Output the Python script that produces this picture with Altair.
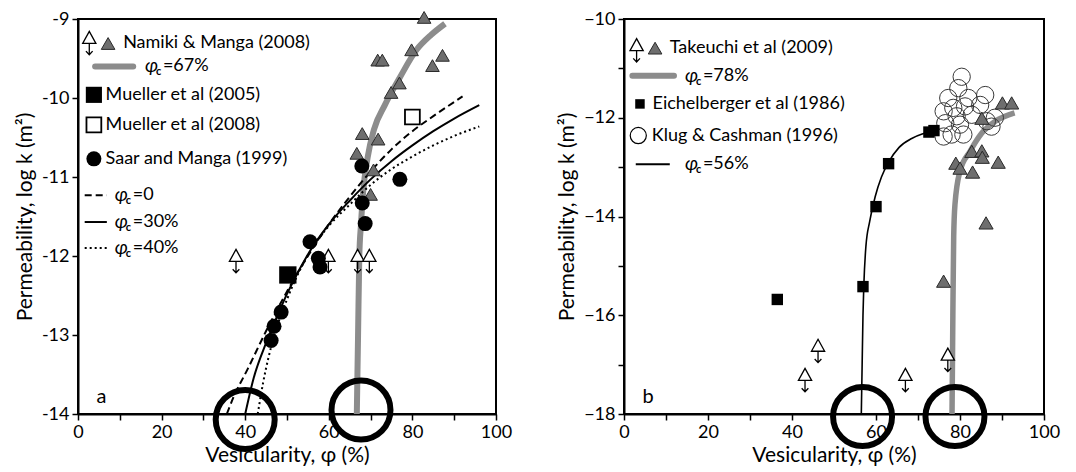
import altair as alt
import pandas as pd

FONT = "Lato"
GRAY = "#8c8c8c"
TRI_FILL = "#6e6e6e"
TRI_ARROW = "M0,-0.55L0.55,0.45L-0.55,0.45Z M0,0.45L0,1.4 M-0.28,1.1L0,1.4L0.28,1.1"

# ---------------- Panel a data ----------------
a_nm_x = [82.8, 79.8, 87.2, 84.8, 71.7, 72.8, 76.9, 74.9, 68.0, 71.8, 66.7, 70.7, 70.0]
a_nm_y = [-8.98, -9.39, -9.46, -9.59, -9.52, -9.52, -9.81, -9.93, -10.45, -10.52, -10.70, -10.91, -11.22]
a_lim_x = [37.8, 59.9, 66.9, 69.7]
a_lim_y = [-12.0, -12.0, -12.0, -12.0]
a_sm_x = [67.9, 68.0, 68.7, 77.0, 55.5, 57.5, 57.9, 48.6, 46.9, 46.2]
a_sm_y = [-10.86, -11.33, -11.59, -11.03, -11.82, -12.03, -12.14, -12.71, -12.89, -13.07]
a_m05_x = [50.2]
a_m05_y = [-12.24]
a_m08_x = [80.0]
a_m08_y = [-10.24]

a_g67_x = [66.7, 67.0, 67.3, 67.7, 68.2, 69.3, 70.8, 73.4, 77.0, 81.0, 84.5, 87.8]
a_g67_y = [-14.0, -13.0, -12.0, -11.6, -11.2, -10.75, -10.4, -10.09, -9.74, -9.39, -9.2, -9.06]
a_c0_x = [35.6, 37.1, 40.7, 45.0, 50.0, 55.0, 60.0, 65.0, 70.0, 75.0, 80.0, 85.0, 92.0]
a_c0_y = [-14.0, -13.8, -13.42, -12.95, -12.45, -12.0, -11.6, -11.25, -10.93, -10.65, -10.42, -10.23, -9.98]
a_c30_x = [40.0, 42.0, 45.0, 48.0, 50.0, 55.0, 60.0, 65.0, 70.0, 75.0, 80.0, 85.0, 90.0, 96.0]
a_c30_y = [-14.0, -13.55, -13.1, -12.72, -12.48, -11.98, -11.6, -11.3, -11.03, -10.8, -10.6, -10.42, -10.26, -10.09]
a_c40_x = [43.0, 44.3, 45.5, 47.0, 50.0, 55.0, 60.0, 65.0, 70.0, 75.0, 80.0, 85.0, 90.0, 96.0]
a_c40_y = [-14.0, -13.6, -13.3, -13.0, -12.55, -11.99, -11.62, -11.35, -11.1, -10.9, -10.74, -10.6, -10.48, -10.36]

a_big_x = [40.0, 67.7]
a_big_y = [-14.07, -13.95]

# ---------------- Panel b data ----------------
b_tk_x = [90.1, 92.3, 85.2, 82.8, 85.2, 85.3, 79.0, 80.0, 83.0, 89.1, 86.2, 76.1]
b_tk_y = [-11.70, -11.70, -12.01, -12.68, -12.67, -12.80, -12.92, -13.02, -13.10, -12.90, -14.13, -15.31]
b_lim_x = [46.2, 43.1, 67.0, 77.1]
b_lim_y = [-16.62, -17.21, -17.21, -16.80]
b_eb_x = [36.5, 56.9, 60.0, 63.0, 73.8, 72.6]
b_eb_y = [-15.68, -15.42, -13.80, -12.93, -12.26, -12.29]
b_kc_x = [80.4, 79.6, 77.2, 86.0, 78.4, 81.2, 84.8, 79.2, 82.8, 86.4, 76.5, 80.0, 87.5, 78.0, 80.8, 76.1, 76.1, 88.3, 82.0]
b_kc_y = [-11.17, -11.40, -11.60, -11.54, -11.80, -11.77, -11.74, -11.97, -11.94, -12.07, -12.11, -12.14, -12.18, -12.34, -12.34, -12.38, -11.87, -12.0, -11.60]

b_g78_x = [78.1, 78.3, 78.5, 78.8, 80.0, 82.4, 85.2, 88.4, 93.0]
b_g78_y = [-18.0, -16.0, -14.4, -13.76, -13.08, -12.68, -12.31, -12.07, -11.9]
b_c56_x = [56.5, 56.7, 56.9, 57.1, 57.6, 58.5, 59.8, 61.3, 63.0, 65.5, 68.5, 71.0, 72.8]
b_c56_y = [-18.0, -17.0, -16.0, -15.4, -14.6, -14.1, -13.6, -13.2, -12.9, -12.6, -12.42, -12.33, -12.29]

b_big_x = [56.8, 78.8]
b_big_y = [-18.05, -18.05]

# ---------------- Legends ----------------
a_leg_txt_x = [10.8, 6.6, 6.6, 6.6]
a_leg_txt_y = [-9.31, -9.96, -10.34, -10.77]
a_leg_txt = ["Namiki & Manga (2008)", "Mueller et al (2005)", "Mueller et al (2008)", "Saar and Manga (1999)"]
a_leg_phi_x = [16.0, 8.8, 8.8, 8.8]
a_leg_phi_y = [-9.60, -11.23, -11.57, -11.90]
a_leg_phi_val = ["=67%", "=0", "=30%", "=40%"]

b_leg_txt_x = [10.9, 6.8, 6.6]
b_leg_txt_y = [-10.59, -11.72, -12.36]
b_leg_txt = ["Takeuchi et al (2009)", "Eichelberger et al (1986)", "Klug & Cashman (1996)"]
b_leg_phi_x = [14.5, 14.5]
b_leg_phi_y = [-11.15, -12.94]
b_leg_phi_val = ["=78%", "=56%"]

xs = alt.Scale(domain=[0, 100], nice=False, zero=False)


def x_enc():
    return alt.X("x:Q", scale=xs, title="Vesicularity, φ (%)",
                 axis=alt.Axis(values=list(range(0, 101, 10)),
                               labelExpr="datum.value % 20 == 0 ? datum.label : ''",
                               labelFlush=False, grid=False, tickSize=6,
                               labelPadding=3, titlePadding=3))


def y_enc(dom, vals, expr):
    return alt.Y("y:Q", scale=alt.Scale(domain=dom, nice=False, zero=False),
                 title="Permeability,  log k  (m²)",
                 axis=alt.Axis(values=vals, labelExpr=expr, grid=False, tickSize=6,
                               labelPadding=3, titlePadding=6))


def pts(x, y, xe, ye, **mk):
    return alt.Chart(pd.DataFrame({"x": x, "y": y})).mark_point(opacity=1, **mk).encode(x=xe, y=ye)


def line(x, y, xe, ye, **mk):
    return alt.Chart(pd.DataFrame({"x": x, "y": y})).mark_line(**mk).encode(x=xe, y=ye)


def txt(x, y, t, xe, ye, **mk):
    base = dict(align="left", baseline="middle", font=FONT, fontSize=18, color="black")
    base.update(mk)
    return alt.Chart(pd.DataFrame({"x": x, "y": y, "t": t})).mark_text(**base).encode(x=xe, y=ye, text="t:N")


def phi_label(x, y, vals, xe, ye):
    return [
        txt(x, y, ["φ"] * len(x), xe, ye, fontStyle="italic", fontSize=19),
        txt(x, y, ["c"] * len(x), xe, ye, fontSize=11, dx=11, dy=6, fontWeight="bold"),
        txt(x, y, vals, xe, ye, dx=18),
    ]


# ---------------- Panel a ----------------
xa = x_enc()
ya = y_enc([-14, -9], [-14, -13, -12, -11, -10, -9], "'-' + abs(datum.value)")

layers_a = [
    line(a_g67_x, a_g67_y, xa, ya, color=GRAY, strokeWidth=6, interpolate="monotone"),
    line(a_c0_x, a_c0_y, xa, ya, color="black", strokeWidth=2, strokeDash=[7, 4], interpolate="monotone"),
    line(a_c30_x, a_c30_y, xa, ya, color="black", strokeWidth=2, interpolate="monotone"),
    line(a_c40_x, a_c40_y, xa, ya, color="black", strokeWidth=2, strokeDash=[2, 3], interpolate="monotone"),
    pts(a_nm_x, a_nm_y, xa, ya, shape="triangle-up", filled=True, fill=TRI_FILL, stroke="#2a2a2a", strokeWidth=1, size=185),
    pts(a_lim_x, a_lim_y, xa, ya, shape=TRI_ARROW, filled=True, fill="white", stroke="black", strokeWidth=1.3, size=576),
    pts(a_sm_x, a_sm_y, xa, ya, shape="circle", filled=True, color="black", size=225),
    pts(a_m05_x, a_m05_y, xa, ya, shape="square", filled=True, color="black", size=300),
    pts(a_m08_x, a_m08_y, xa, ya, shape="square", filled=False, color="black", strokeWidth=1.8, size=220),
    pts(a_big_x, a_big_y, xa, ya, shape="circle", filled=False, color="black", strokeWidth=6, size=3480),
    # legend
    pts([2.7], [-9.24], xa, ya, shape=TRI_ARROW, filled=True, fill="white", stroke="black", strokeWidth=1.3, size=576),
    pts([7.2], [-9.31], xa, ya, shape="triangle-up", filled=True, fill=TRI_FILL, stroke="#2a2a2a", strokeWidth=1, size=185),
    line([4.1, 13.2], [-9.60, -9.60], xa, ya, color=GRAY, strokeWidth=6, strokeCap="round"),
    pts([3.8], [-9.96], xa, ya, shape="square", filled=True, color="black", size=260),
    pts([3.8], [-10.34], xa, ya, shape="square", filled=False, color="black", strokeWidth=1.8, size=220),
    pts([3.8], [-10.77], xa, ya, shape="circle", filled=True, color="black", size=225),
    line([1.6, 6.9], [-11.23, -11.23], xa, ya, color="black", strokeWidth=2, strokeDash=[7, 4]),
    line([1.6, 6.9], [-11.57, -11.57], xa, ya, color="black", strokeWidth=2),
    line([1.6, 6.9], [-11.90, -11.90], xa, ya, color="black", strokeWidth=2, strokeDash=[2, 3]),
    txt(a_leg_txt_x, a_leg_txt_y, a_leg_txt, xa, ya),
    *phi_label(a_leg_phi_x, a_leg_phi_y, a_leg_phi_val, xa, ya),
    txt([4.4], [-13.78], ["a"], xa, ya, fontSize=20),
]
panel_a = alt.layer(*layers_a).properties(width=418, height=395)

# ---------------- Panel b ----------------
xb = x_enc()
yb = y_enc([-18, -10], list(range(-18, -9)), "datum.value % 2 == 0 ? datum.label : ''")

layers_b = [
    line(b_g78_x, b_g78_y, xb, yb, color=GRAY, strokeWidth=5.5, interpolate="monotone"),
    line(b_c56_x, b_c56_y, xb, yb, color="black", strokeWidth=1.6, interpolate="monotone"),
    pts(b_kc_x, b_kc_y, xb, yb, shape="circle", filled=False, color="#3a3a3a", strokeWidth=1, size=300),
    pts(b_tk_x, b_tk_y, xb, yb, shape="triangle-up", filled=True, fill=TRI_FILL, stroke="#2a2a2a", strokeWidth=1, size=200),
    pts(b_lim_x, b_lim_y, xb, yb, shape=TRI_ARROW, filled=True, fill="white", stroke="black", strokeWidth=1.3, size=576),
    pts(b_eb_x, b_eb_y, xb, yb, shape="square", filled=True, color="black", size=130),
    pts(b_big_x, b_big_y, xb, yb, shape="circle", filled=False, color="black", strokeWidth=6, size=3480),
    # legend
    pts([3.0], [-10.53], xb, yb, shape=TRI_ARROW, filled=True, fill="white", stroke="black", strokeWidth=1.3, size=576),
    pts([7.4], [-10.59], xb, yb, shape="triangle-up", filled=True, fill=TRI_FILL, stroke="#2a2a2a", strokeWidth=1, size=185),
    line([2.0, 11.9], [-11.15, -11.15], xb, yb, color=GRAY, strokeWidth=6, strokeCap="round"),
    pts([3.8], [-11.72], xb, yb, shape="square", filled=True, color="black", size=90),
    pts([3.4], [-12.36], xb, yb, shape="circle", filled=False, color="black", strokeWidth=1.2, size=260),
    line([2.8, 10.9], [-12.94, -12.94], xb, yb, color="black", strokeWidth=2),
    txt(b_leg_txt_x, b_leg_txt_y, b_leg_txt, xb, yb),
    *phi_label(b_leg_phi_x, b_leg_phi_y, b_leg_phi_val, xb, yb),
    txt([4.4], [-17.66], ["b"], xb, yb, fontSize=20),
]
panel_b = alt.layer(*layers_b).properties(width=420, height=395)

chart = (
    alt.hconcat(panel_a, panel_b, spacing=42)
    .properties(padding={"left": 5, "top": 0, "right": 5, "bottom": 0})
    .configure_view(stroke="black", strokeWidth=2)
    .configure_axis(labelFont=FONT, titleFont=FONT, labelFontSize=18, titleFontSize=21,
                    titleFontWeight="normal", labelColor="black", titleColor="black",
                    domainColor="black", domainWidth=2, tickColor="black", tickWidth=1.5)
)

chart.save("out.html", embed_options={"renderer": "svg", "actions": False})
